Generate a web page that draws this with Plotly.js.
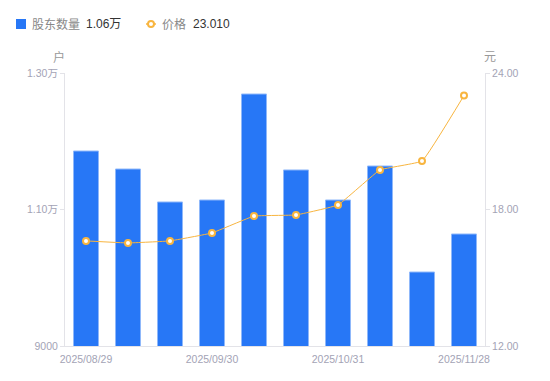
<!DOCTYPE html>
<html>
<head>
<meta charset="utf-8">
<script src="https://cdn.plot.ly/plotly-3.0.1.min.js"></script>
<style>html,body{margin:0;padding:0;background:#fff;}#chart{width:550px;height:381px;}</style>
</head>
<body>
<div id="chart"></div>
<script>
const dates = ["2025/08/29","2025/09/10","2025/09/19","2025/09/30","2025/10/10","2025/10/20","2025/10/31","2025/11/10","2025/11/20","2025/11/28"];
const holders = [11857, 11593, 11110, 11139, 12692, 11579, 11139, 11637, 10084, 10641];
const prices = [16.62, 16.53, 16.62, 16.97, 17.71, 17.76, 18.20, 19.74, 20.13, 23.01];
const xTickLabels = ["2025/08/29","2025/09/30","2025/10/31","2025/11/28"];
const leftTicks = [9000, 11000, 13000];
const leftTickText = ["9000","1.10万","1.30万"];
const rightTicks = [12, 18, 24];
const rightTickText = ["12.00","18.00","24.00"];
const seriesNames = ["股东数量", "价格"];
const latestText = ["1.06万", "23.010"];

const font = "'Liberation Sans', Arial, 'Noto Sans CJK SC', sans-serif";
const tickColor = "#a3a3b5";
const axisColor = "#e3e3e8";
const barColor = "#2777f6";
const lineColor = "#f8b53f";

const traces = [
  {
    type: "bar", x: dates, y: holders, name: seriesNames[0],
    marker: {color: barColor, line: {color: "#8fb8fa", width: 1}}
  },
  {
    type: "scatter", mode: "lines+markers", x: dates, y: prices, yaxis: "y2", name: seriesNames[1],
    line: {color: lineColor, width: 1, shape: "spline", smoothing: 0.25},
    marker: {size: 6, color: "#ffffff", line: {color: lineColor, width: 2}}
  }
];

function legText(txt, px, color) {
  return {text: txt, xref: "paper", yref: "paper", x: 0, y: 1, xshift: px - 65, yshift: 49,
          xanchor: "left", yanchor: "middle", showarrow: false, borderpad: 0,
          font: {size: 12, color: color, family: font}};
}

const layout = {
  width: 550, height: 381,
  margin: {l: 65, r: 65, t: 73, b: 35},
  paper_bgcolor: "#fff", plot_bgcolor: "#fff",
  font: {family: font, size: 11, color: tickColor},
  bargap: 0.405,
  showlegend: false,
  xaxis: {
    type: "category", range: [-0.5, dates.length - 0.5], tickmode: "array", tickvals: xTickLabels, ticktext: xTickLabels, automargin: false,
    showgrid: false, showline: true, linecolor: axisColor, linewidth: 1,
    ticks: "", ticklabelstandoff: 3, tickfont: {size: 10.5, color: tickColor}, zeroline: false
  },
  yaxis: {
    range: [9000, 13000], tickmode: "array", tickvals: leftTicks, ticktext: leftTickText, automargin: false,
    showgrid: false, showline: true, linecolor: axisColor, linewidth: 1,
    ticks: "outside", ticklen: 4, tickcolor: axisColor, tickfont: {size: 10.5, color: tickColor},
    zeroline: false
  },
  yaxis2: {
    overlaying: "y", side: "right", automargin: false,
    range: [12, 24], tickmode: "array", tickvals: rightTicks, ticktext: rightTickText,
    showgrid: false, showline: true, linecolor: axisColor, linewidth: 1,
    ticks: "outside", ticklen: 4, tickcolor: axisColor, tickfont: {size: 10.5, color: tickColor},
    zeroline: false
  },
  shapes: [
    {type: "rect", xref: "paper", yref: "paper", xsizemode: "pixel", ysizemode: "pixel",
     xanchor: 0, yanchor: 1, x0: 16 - 65, x1: 26 - 65, y0: 73 - 29, y1: 73 - 19,
     fillcolor: barColor, line: {width: 0}},
    {type: "line", xref: "paper", yref: "paper", xsizemode: "pixel", ysizemode: "pixel",
     xanchor: 0, yanchor: 1, x0: 146 - 65, x1: 156 - 65, y0: 73 - 24, y1: 73 - 24,
     line: {color: lineColor, width: 1.5}},
    {type: "circle", xref: "paper", yref: "paper", xsizemode: "pixel", ysizemode: "pixel",
     xanchor: 0, yanchor: 1, x0: 148 - 65, x1: 154 - 65, y0: 73 - 27, y1: 73 - 21,
     fillcolor: "#ffffff", line: {color: lineColor, width: 2}}
  ],
  annotations: [
    legText(seriesNames[0], 31, "#888"),
    legText(latestText[0], 85, "#333"),
    legText(seriesNames[1], 161, "#888"),
    legText(latestText[1], 192, "#333"),
    {text: "户", xref: "paper", yref: "paper", x: 0, y: 1, xshift: -6, yshift: 16, showarrow: false, xanchor: "center", yanchor: "middle", font: {size: 12, color: "#999"}},
    {text: "元", xref: "paper", yref: "paper", x: 1, y: 1, xshift: 5, yshift: 16, showarrow: false, xanchor: "center", yanchor: "middle", font: {size: 12, color: "#999"}}
  ]
};

Plotly.newPlot("chart", traces, layout, {displayModeBar: false, staticPlot: true});
</script>
</body>
</html>
